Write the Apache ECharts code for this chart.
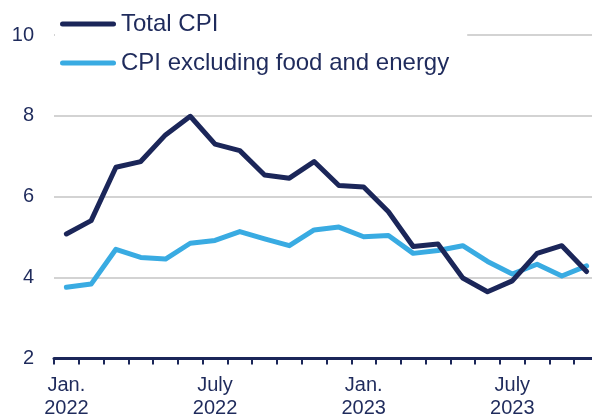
<!DOCTYPE html>
<html>
<head>
<meta charset="utf-8">
<script src="https://cdn.jsdelivr.net/npm/echarts@6/dist/echarts.min.js"></script>
<style>
  html, body { margin: 0; padding: 0; background: #fff; }
  #chart { width: 592px; height: 416px; }
</style>
</head>
<body>
<div id="chart"></div>
<script>
// Monthly categories, Jan. 2022 to Oct. 2023
const months = [
  "Jan.\n2022", "Feb.\n2022", "Mar.\n2022", "Apr.\n2022", "May\n2022", "June\n2022",
  "July\n2022", "Aug.\n2022", "Sep.\n2022", "Oct.\n2022", "Nov.\n2022", "Dec.\n2022",
  "Jan.\n2023", "Feb.\n2023", "Mar.\n2023", "Apr.\n2023", "May\n2023", "June\n2023",
  "July\n2023", "Aug.\n2023", "Sep.\n2023", "Oct.\n2023"
];
const totalCpi = [
  5.08, 5.41, 6.73, 6.87, 7.53, 7.99, 7.30, 7.14, 6.54, 6.46, 6.87,
  6.28, 6.24, 5.63, 4.77, 4.83, 3.99, 3.65, 3.92, 4.60, 4.79, 4.15
];
const coreCpi = [
  3.76, 3.84, 4.70, 4.50, 4.46, 4.85, 4.92, 5.14, 4.96, 4.79, 5.18,
  5.25, 5.01, 5.04, 4.60, 4.67, 4.79, 4.40, 4.09, 4.33, 4.04, 4.29
];
const yTicks = { min: 2, max: 10, step: 2 };

const encre = "#1f2b5c";
const marine = "#1b2659";
const ciel = "#39abe2";
const capsule = "path://M2.5,0 H53.5 A2.5,2.5 0 0 1 53.5,5 H2.5 A2.5,2.5 0 0 1 2.5,0 Z";
const police = "'Liberation Sans', Arial, sans-serif";

const chart = echarts.init(document.getElementById("chart"));
chart.setOption({
  animation: false,
  textStyle: { fontFamily: police, color: encre },
  // l'axe continue au-delà du bord droit, comme dans l'original rogné
  grid: { left: 54, right: -7, top: 35, bottom: 57.5, outerBoundsMode: "none", containLabel: false },
  legend: {
    orient: "vertical",
    left: 55,
    top: 7,
    padding: [5, 18, 5, 5],
    backgroundColor: "#fff",
    itemWidth: 56,
    itemHeight: 5,
    itemGap: 15,
    textStyle: { fontSize: 24, lineHeight: 24, color: encre, fontFamily: police },
    data: [
      { name: "Total CPI", icon: capsule },
      { name: "CPI excluding food and energy", icon: capsule }
    ]
  },
  xAxis: {
    type: "category",
    data: months,
    boundaryGap: true,
    axisLine: { show: true, lineStyle: { color: marine, width: 3 } },
    axisTick: { show: true, interval: 0, length: 6, lineStyle: { color: marine, width: 2 } },
    axisLabel: {
      interval: 5,
      fontSize: 20,
      lineHeight: 23,
      margin: 15,
      color: encre,
      fontFamily: police
    },
    splitLine: { show: false }
  },
  yAxis: {
    type: "value",
    min: yTicks.min,
    max: yTicks.max,
    interval: yTicks.step,
    axisLine: { show: false },
    axisTick: { show: false },
    axisLabel: { fontSize: 20, margin: 20, color: encre, fontFamily: police },
    splitLine: { lineStyle: { color: "#d3d3d3", width: 2 } }
  },
  series: [
    {
      name: "Total CPI",
      type: "line",
      data: totalCpi,
      symbol: "none",
      color: marine,
      z: 3,
      lineStyle: { width: 5, cap: "round", join: "round", color: marine }
    },
    {
      name: "CPI excluding food and energy",
      type: "line",
      data: coreCpi,
      symbol: "none",
      color: ciel,
      z: 2,
      lineStyle: { width: 5, cap: "round", join: "round", color: ciel }
    }
  ]
});
</script>
</body>
</html>
